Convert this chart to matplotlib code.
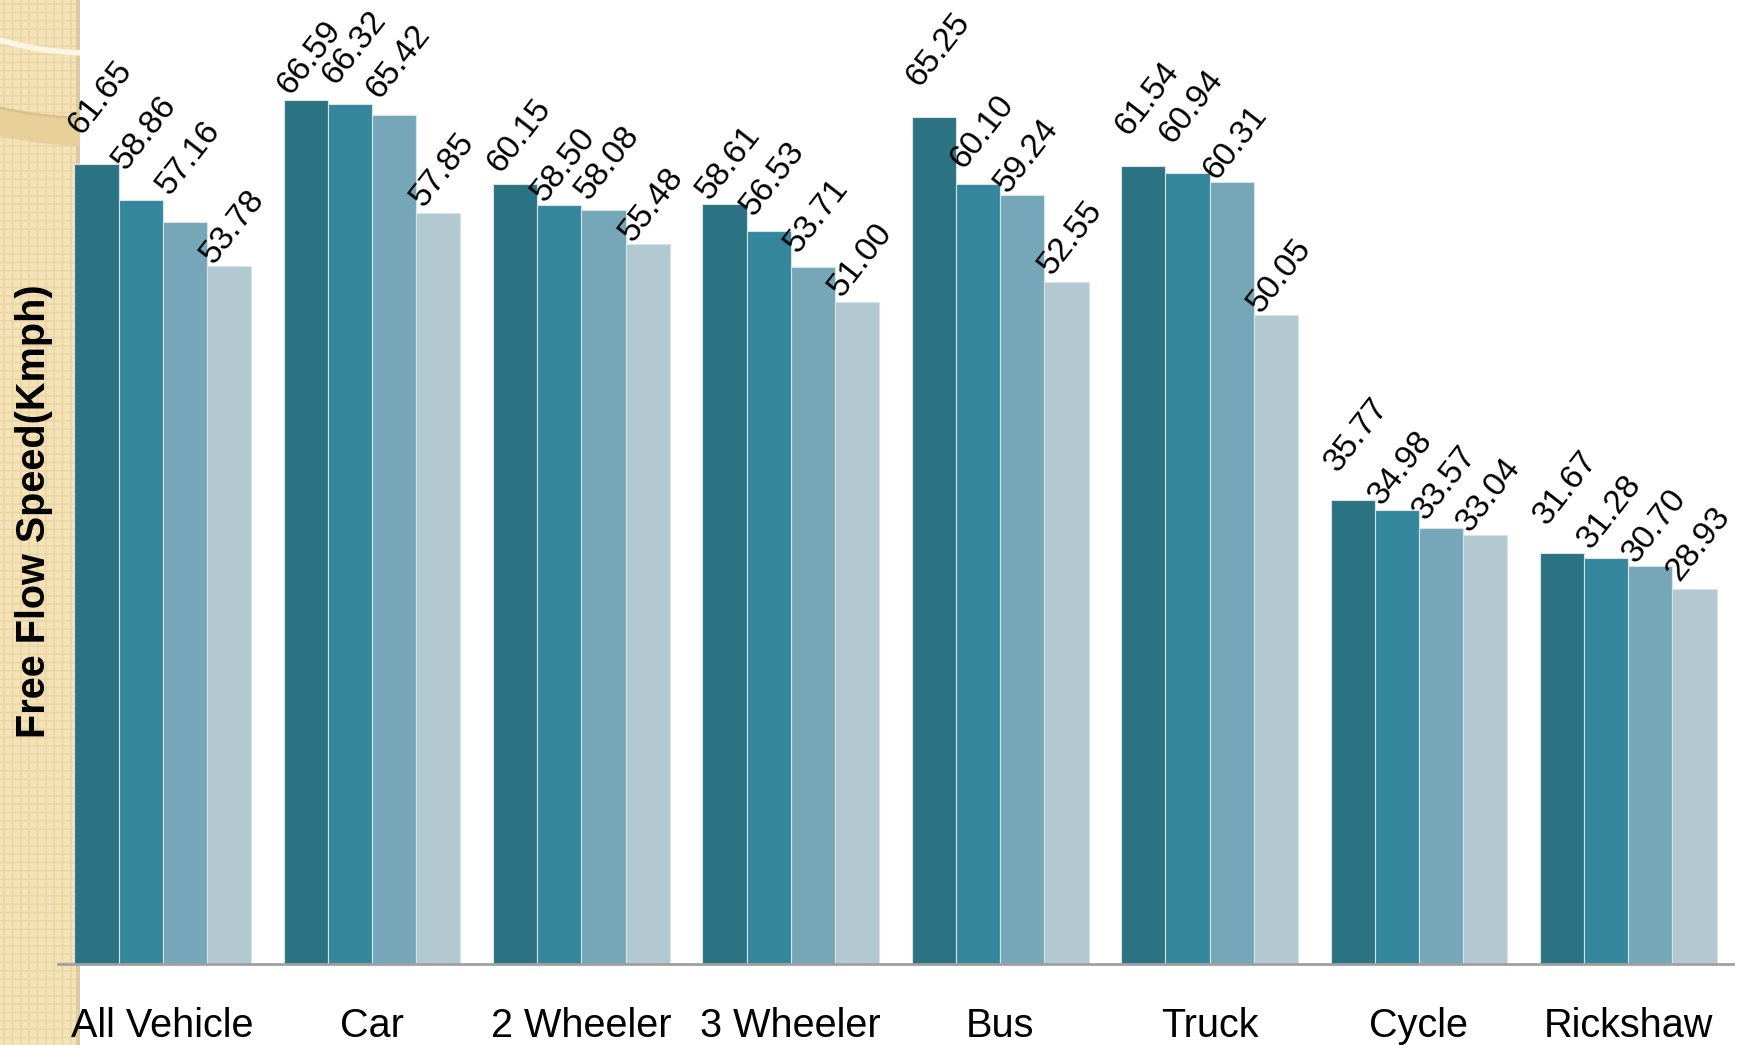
import numpy as np
import matplotlib
matplotlib.use("Agg")
from matplotlib import pyplot as plt
from matplotlib.patches import Rectangle, Circle

# Data
categories = ["All Vehicle", "Car", "2 Wheeler", "3 Wheeler", "Bus", "Truck", "Cycle", "Rickshaw"]
series1 = [61.65, 66.59, 60.15, 58.61, 65.25, 61.54, 35.77, 31.67]
series2 = [58.86, 66.32, 58.50, 56.53, 60.10, 60.94, 34.98, 31.28]
series3 = [57.16, 65.42, 58.08, 53.71, 59.24, 60.31, 33.57, 30.70]
series4 = [53.78, 57.85, 55.48, 51.00, 52.55, 50.05, 33.04, 28.93]
colors = ["#2B7282", "#35879D", "#75A7B8", "#B3C9D1"]

# label lift above bar top (pixels), per series, as placed in the original slide
lift1 = [27, 3, 9, 2, 28, 28, 26, 26]
lift2 = [28, 17, 1, 13, 13, 27, 3, 7]
lift3 = [25, 14, 8, 12, 0, 0, 6, 1]
lift4 = [0, 4, 0, 3, 5, 0, 1, 6]

plt.rcParams["font.family"] = ["Liberation Sans", "DejaVu Sans"]
plt.rcParams["hatch.linewidth"] = 1.2

W, H = 1748, 1045
fig = plt.figure(figsize=(W / 100, H / 100), dpi=100)
fig.patch.set_facecolor("white")

# Decorative beige strip on the left (slide background)
bg = fig.add_axes([0, 0, 80 / W, 1], zorder=0)
bg.set_xlim(0, 80)
bg.set_ylim(H, 0)
bg.axis("off")
bg.add_patch(Rectangle((0, 0), 80, H, facecolor="#F4E3B9", edgecolor="#EBD5A2", hatch="++", lw=0))
bg.add_patch(Rectangle((76, 0), 4, H, facecolor="#DCCBA0", lw=0))
bg.add_patch(Circle((90, 132 - 400), 400, fill=False, lw=20, edgecolor="#E6CF98"))
bg.add_patch(Circle((90, 118 - 400), 400, fill=False, lw=2, edgecolor="#D9C28E"))
bg.add_patch(Circle((90, 53 - 318), 318, fill=False, lw=4, edgecolor="#FBF5E4"))

# Main chart
ax = fig.add_axes([58 / W, 81 / H, (1733 - 58) / W, 964 / H], zorder=1)
ax.patch.set_alpha(0)

x = np.arange(len(categories))
w = 0.211
all_series = [series1, series2, series3, series4]
all_lifts = [lift1, lift2, lift3, lift4]
for i, vals in enumerate(all_series):
    pos = x + (i - 1.5) * w
    ax.bar(pos, vals, width=w, color=colors[i], edgecolor="#D6E3E8", linewidth=0.8)
    for px, v, lf in zip(pos, vals, all_lifts[i]):
        ax.annotate(f"{v:.2f}", (px - w / 2, v), xytext=(7, lf + 1), textcoords="offset pixels",
                    rotation=52, rotation_mode="anchor", ha="left", va="baseline",
                    fontsize=24, color="black", clip_on=False)

ax.set_xlim(-0.5, 7.5)
ax.set_ylim(0, 74.3)
ax.set_xticks(x)
ax.set_xticklabels(categories, fontsize=28.5)
ax.tick_params(axis="x", length=0, pad=31)
ax.set_yticks([])
for s in ["top", "right", "left"]:
    ax.spines[s].set_visible(False)
ax.spines["bottom"].set_color("#A0A0A0")
ax.spines["bottom"].set_linewidth(2)

fig.text(34 / W, 1 - 511 / H, "Free Flow Speed(Kmph)", rotation=90, ha="center", va="center",
         fontsize=28.5, fontweight="bold")

plt.savefig("out.png", dpi=100)
